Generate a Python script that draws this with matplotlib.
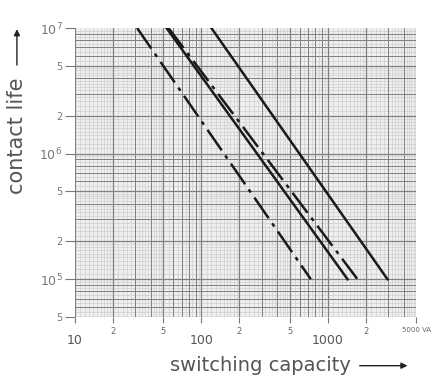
import numpy as np
import matplotlib
matplotlib.use("Agg")
import matplotlib.pyplot as plt

# ---- data ----
# each curve: switching capacity (VA) where it meets contact life 1e7 and 1e5
life_ends = [1e7, 1e5]
curve_leftmost = [31, 735]      # dash-dot
curve_mid_solid = [53, 1435]    # solid
curve_mid_dashdot = [55, 1720]  # dash-dot
curve_right = [120, 2970]       # solid

x_ticks = [10, 20, 50, 100, 200, 500, 1000, 2000, 5000]
x_labels = ["10", "2", "5", "100", "2", "5", "1000", "2", "5000 VA"]
y_ticks = [5e4, 1e5, 2e5, 5e5, 1e6, 2e6, 5e6, 1e7]
y_labels = ["5", "10$^5$", "2", "5", "10$^6$", "2", "5", "10$^7$"]

plt.rcParams['font.family'] = ['DejaVu Sans']
fig = plt.figure(figsize=(4.45, 3.77), dpi=100)
ax = fig.add_axes([0.1685, 0.159, 0.7665, 0.7667])
ax.set_xscale('log')
ax.set_yscale('log')
ax.set_xlim(10, 5000)
ax.set_ylim(5e4, 1e7)
ax.set_facecolor('#efefef')

# ---- log-paper grid ----
def fine_steps():
    return list(np.arange(1.0, 2.0, 0.1)) + list(np.arange(2.0, 5.0, 0.2)) + list(np.arange(5.0, 10.0, 0.5))
for dec in [10, 100, 1000]:
    for m in fine_steps():
        v = dec * m
        if 10 <= v <= 5000:
            ax.axvline(v, color='#cfcfcf', lw=0.5, zorder=0)
for dec in [1e4, 1e5, 1e6]:
    for m in fine_steps():
        v = dec * m
        if 5e4 <= v <= 1e7:
            ax.axhline(v, color='#cfcfcf', lw=0.5, zorder=0)
for dec in [10, 100, 1000]:
    for m in range(1, 10):
        v = dec * m
        if 10 <= v <= 5000:
            ax.axvline(v, color='#808080', lw=0.9 if m in (1, 2, 5) else 0.7, zorder=1)
for dec in [1e4, 1e5, 1e6]:
    for m in range(1, 10):
        v = dec * m
        if 5e4 <= v <= 1e7:
            ax.axhline(v, color='#808080', lw=0.9 if m in (1, 2, 5) else 0.7, zorder=1)

# ---- curves ----
ax.plot(curve_leftmost, life_ends, color='#1a1a1a', lw=1.8, dashes=(10, 2.5, 1.5, 2.5), zorder=3)
ax.plot(curve_mid_solid, life_ends, color='#1a1a1a', lw=1.8, zorder=3)
ax.plot(curve_mid_dashdot, life_ends, color='#1a1a1a', lw=1.8, dashes=(10, 2.5, 1.5, 2.5), zorder=3)
ax.plot(curve_right, life_ends, color='#1a1a1a', lw=1.8, zorder=3)

for s in ax.spines.values():
    s.set_visible(False)

# ---- ticks ----
ax.set_xticks(x_ticks)
ax.set_xticklabels([])
ax.xaxis.set_minor_locator(matplotlib.ticker.NullLocator())
ax.tick_params(axis='x', length=4, color='#777777', width=0.8)
ax.set_yticks(y_ticks)
ax.set_yticklabels(y_labels, color='#777777')
ax.yaxis.set_minor_locator(matplotlib.ticker.NullLocator())
ax.tick_params(axis='y', length=7, color='#777777', width=0.8, pad=2, labelsize=7)
for lab in ax.get_yticklabels():
    if lab.get_text().startswith('10'):
        lab.set_fontsize(9)

xt = ax.get_xaxis_transform()
for val, txt in zip(x_ticks, x_labels):
    if txt in ("10", "100", "1000"):
        ax.text(val, -0.08, txt, transform=xt, ha='center', va='center',
                fontsize=9, color='#555555')
    elif txt.endswith("VA"):
        ax.text(val, -0.045, txt, transform=xt, ha='center', va='center',
                fontsize=5, color='#666666')
    else:
        ax.text(val, -0.05, txt, transform=xt, ha='center', va='center',
                fontsize=6, color='#666666')

# ---- axis titles with arrows ----
fig.text(0.382, 0.03, "switching capacity", ha='left', va='center', fontsize=14,
         color='#555555')
ax.annotate('', xy=(0.922, 0.03), xytext=(0.802, 0.03), xycoords='figure fraction',
            arrowprops=dict(arrowstyle='-|>', color='#222222', lw=1, mutation_scale=9))
fig.text(0.038, 0.639, "contact life", rotation=90, ha='center', va='center', fontsize=15,
         color='#555555')
ax.annotate('', xy=(0.038, 0.93), xytext=(0.038, 0.82), xycoords='figure fraction',
            arrowprops=dict(arrowstyle='-|>', color='#222222', lw=1, mutation_scale=9))

fig.savefig('out.png', dpi=100, facecolor='white')
